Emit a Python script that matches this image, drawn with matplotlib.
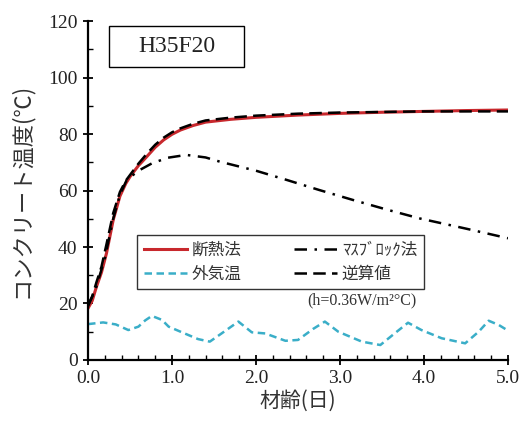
import numpy as np
import matplotlib
matplotlib.use("Agg")
import matplotlib.pyplot as plt
from matplotlib.patches import Rectangle
from matplotlib.ticker import MultipleLocator, FormatStrFormatter

plt.rcParams['font.family'] = ['Liberation Serif', 'Noto Sans CJK JP', 'DejaVu Sans']
JP = ['Noto Sans CJK JP', 'DejaVu Sans']

# adiabatic method (red) and back-calculated values (black long dash)
t_main = [0, 0.05, 0.1, 0.16, 0.22, 0.3, 0.38, 0.45, 0.5, 0.6, 0.7, 0.8, 0.9, 1.0,
          1.1, 1.25, 1.4, 1.7, 2.0, 2.5, 3.0, 3.5, 4.0, 4.5, 5.0]
adiabatic = [18.3, 21, 25.9, 31, 37.8, 49.6, 58, 62.5, 64.9, 68.8, 72, 75.3, 77.9, 79.9,
             81.4, 83, 84.2, 85.2, 85.9, 86.7, 87.3, 87.7, 88, 88.3, 88.5]
inverse = [19.5, 22.5, 27.5, 33, 41, 52, 59.5, 63.5, 65.5, 69.5, 73, 76.2, 78.7, 80.6,
           82, 83.6, 84.8, 85.8, 86.5, 87.2, 87.6, 87.8, 88, 88, 88]

# mass block method (dash-dot)
t_mass = [0, 0.1, 0.2, 0.3, 0.38, 0.46, 0.6, 0.76, 0.95, 1.17, 1.4, 1.57, 2.0,
          2.37, 2.75, 3.16, 3.55, 3.95, 4.5, 5.0]
mass = [19, 26, 36, 50, 58.5, 63.7, 67, 69.6, 71.6, 72.6, 71.7, 70.2, 67,
        63.7, 60.2, 56.6, 53.3, 50.1, 46.5, 43.1]

# outside air temperature
t_air = [0, 0.18, 0.33, 0.48, 0.6, 0.68, 0.76, 0.88, 0.96, 1.15, 1.31, 1.45, 1.59,
         1.79, 1.95, 2.11, 2.35, 2.5, 2.68, 2.82, 2.98, 3.26, 3.48, 3.65, 3.81,
         3.97, 4.21, 4.49, 4.65, 4.77, 4.89, 5.0]
air = [12.7, 13.3, 12.6, 10.6, 11.8, 14, 15.6, 14.2, 11.8, 9.4, 7.4, 6.5, 9.4,
       13.6, 9.8, 9.4, 6.8, 7.1, 11, 13.6, 10, 6.5, 5.3, 9.4, 13.2,
       10.6, 7.7, 5.9, 10, 13.9, 12.4, 10.4]

fig = plt.figure(figsize=(5.19, 4.21), dpi=100)
ax = fig.add_axes([0.1696, 0.1449, 0.8092, 0.8052])

l1, = ax.plot(t_main, adiabatic, color='#c8282d', lw=2.2, label='断熱法')
l2, = ax.plot(t_air, air, color='#3aaec8', lw=1.8, ls=(0, (3, 1.8)), label='外気温')
l3, = ax.plot(t_mass, mass, color='black', lw=1.8, ls=(0, (5, 3, 1, 3)), label='ﾏｽﾌﾞﾛｯｸ法')
l4, = ax.plot(t_main, inverse, color='black', lw=1.8, ls=(0, (5, 2.5)), label='逆算値')

ax.set_xlim(0, 5)
ax.set_ylim(0, 120)
ax.xaxis.set_major_locator(MultipleLocator(1))
ax.xaxis.set_minor_locator(MultipleLocator(0.2))
ax.yaxis.set_major_locator(MultipleLocator(20))
ax.yaxis.set_minor_locator(MultipleLocator(10))
ax.xaxis.set_major_formatter(FormatStrFormatter('%.1f'))
ax.tick_params(which='major', direction='inout', length=7, width=1.3, labelsize=14,
               colors='black', labelcolor='#222222')
ax.tick_params(which='minor', direction='in', length=3.5, width=1)
ax.tick_params(axis='both', which='major', pad=4)
for s in ['top', 'right']:
    ax.spines[s].set_visible(False)
for s in ['left', 'bottom']:
    ax.spines[s].set_linewidth(1.6)

ax.set_xlabel('材齢(日)', family=JP, fontsize=15, color='#333333', labelpad=2)
ax.set_ylabel('コンクリート温度(℃)', family=JP, fontsize=16, color='#333333', labelpad=11)

# title box
ax.add_patch(Rectangle((0.05, 0.864), 0.321, 0.121, transform=ax.transAxes,
                       fc='white', ec='black', lw=1, zorder=5))
ax.text(0.2105, 0.925, 'H35F20', transform=ax.transAxes, fontsize=17, color='#222222',
        ha='center', va='center', zorder=6)

leg = fig.legend(handles=[l1, l2, l3, l4], ncol=2, loc='upper left',
                 bbox_to_anchor=(137 / 519, 1 - 235 / 421), borderaxespad=0,
                 prop={'family': JP, 'size': 12}, frameon=True, fancybox=False,
                 edgecolor='black', handlelength=2.6, columnspacing=3.1,
                 handletextpad=0.3, borderpad=0.4, labelspacing=0.4)
leg.get_frame().set_linewidth(1)
for txt in leg.get_texts():
    txt.set_color('#333333')

ax.text(0.652, 0.177, '(h=0.36W/m²°C)', transform=ax.transAxes, fontsize=11.5,
        color='#333333', ha='center', va='center')

fig.savefig('out.png', dpi=100)
